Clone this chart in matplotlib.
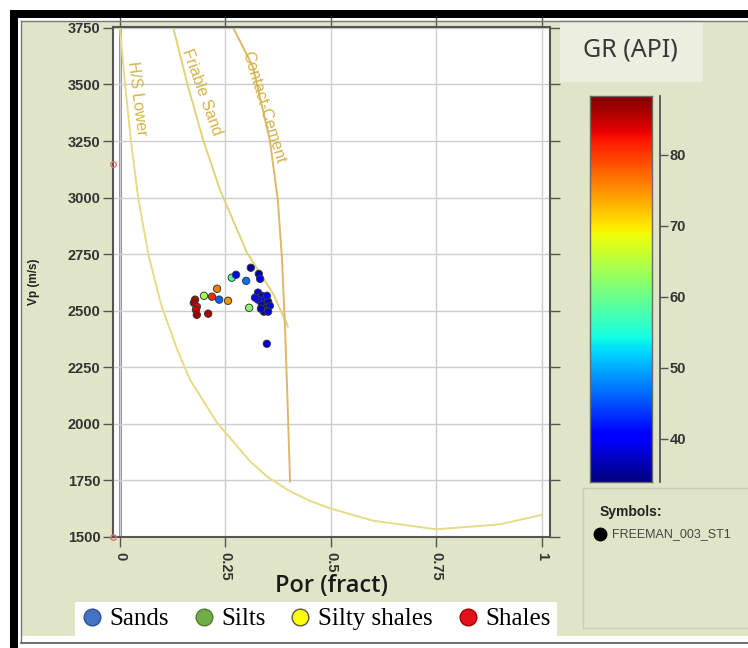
import numpy as np
import matplotlib.pyplot as plt
from matplotlib.patches import Rectangle
from matplotlib.lines import Line2D

# Well FREEMAN_003_ST1: porosity vs Vp, coloured by gamma ray
por = np.array([0.178, 0.175, 0.182, 0.180, 0.182, 0.209, 0.199, 0.218, 0.230,
                0.235, 0.256, 0.265, 0.275, 0.299, 0.310, 0.329, 0.332, 0.306,
                0.327, 0.336, 0.344, 0.351, 0.327, 0.336, 0.346, 0.355, 0.341,
                0.351, 0.334, 0.348, 0.320, 0.348])
vp = np.array([2549, 2535, 2518, 2504, 2482, 2487, 2566, 2562, 2597,
               2549, 2544, 2646, 2659, 2632, 2690, 2663, 2641, 2513,
               2580, 2566, 2553, 2540, 2549, 2527, 2513, 2522, 2496,
               2496, 2509, 2566, 2558, 2354])
gr = np.array([86, 87, 84, 85, 87, 86, 64, 81, 76,
               46, 75, 58, 39, 47, 35, 36, 40, 62,
               38, 37, 39, 36, 40, 38, 37, 39, 36,
               38, 37, 40, 41, 38])

# points sitting on the left edge of the plot
edge_vp = [3150, 1500]

# rock physics model lines
hs_por = [0.0, 0.012, 0.026, 0.043, 0.067, 0.097, 0.135, 0.166, 0.23, 0.308,
          0.35, 0.40, 0.45, 0.5, 0.6, 0.75, 0.9, 1.0]
hs_vp = [3750, 3500, 3250, 3000, 2750, 2530, 2330, 2195, 2005, 1835,
         1765, 1705, 1660, 1625, 1572, 1534, 1556, 1598]
fs_por = [0.126, 0.159, 0.197, 0.237, 0.301, 0.363, 0.398]
fs_vp = [3752, 3507, 3255, 3034, 2756, 2575, 2430]
cc_por = [0.268, 0.315, 0.355, 0.374, 0.384, 0.391, 0.397, 0.403]
cc_vp = [3752, 3578, 3255, 2990, 2725, 2430, 2100, 1745]

gr_min, gr_max = 33.9, 88.3
gr_ticks = [40, 50, 60, 70, 80]
x_ticks = [0, 0.25, 0.5, 0.75, 1]
x_ticklabels = ['0', '0.25', '0.5', '0.75', '1']
y_ticks = list(range(1500, 3751, 250))

facies = ['Sands', 'Silts', 'Silty shales', 'Shales']
facies_colors = ['#4472c4', '#70ad47', '#ffff00', '#e3111b']
facies_edges = ['#2f528f', '#507e32', '#555555', '#a00000']

W, H = 748, 648
BG = '#e1e5c7'
TICK_FONT = dict(family='Liberation Sans', weight='bold', size=10.5)


def box(x0, y0, x1, y1):
    # pixel box (top-left origin) -> figure fraction rect
    return [x0 / W, 1 - y1 / H, (x1 - x0) / W, (y1 - y0) / H]


def fig_rect(fig, x0, y0, x1, y1, **kw):
    l, b, w, h = box(x0, y0, x1, y1)
    fig.add_artist(Rectangle((l, b), w, h, transform=fig.transFigure, **kw))


fig = plt.figure(figsize=(W / 100, H / 100), dpi=100)
fig.patch.set_facecolor('white')

# window frame and panel background
fig_rect(fig, 22, 22, W, 636, facecolor=BG, edgecolor='none', zorder=0)
fig_rect(fig, 10, 10, W, 18, facecolor='black', edgecolor='none', zorder=1)
fig_rect(fig, 10, 10, 18, H, facecolor='black', edgecolor='none', zorder=1)
fig.add_artist(Line2D([20.5 / W, 20.5 / W], [1 - 20.5 / H, 1 - 642 / H],
                      transform=fig.transFigure, color='#777777', lw=1))
fig.add_artist(Line2D([20.5 / W, 1], [1 - 20.5 / H, 1 - 20.5 / H],
                      transform=fig.transFigure, color='#777777', lw=1))
fig.add_artist(Line2D([20.5 / W, 1], [1 - 642.5 / H, 1 - 642.5 / H],
                      transform=fig.transFigure, color='#555555', lw=1.2))

# GR title box and symbols box
fig_rect(fig, 560, 20, 703, 82, facecolor='#eceee0', edgecolor='none', zorder=1)
fig.text(630 / W, 1 - 50 / H, 'GR (API)', family='Noto Sans', size=18,
         color='#383838', ha='center', va='center')
fig_rect(fig, 583, 488, W + 2, 628, facecolor=BG, edgecolor='#c9ceb0',
         lw=1, zorder=1)
fig.text(600 / W, 1 - 512 / H, 'Symbols:', family='Liberation Sans',
         weight='bold', size=10, color='#222222', va='center')
fig.add_artist(Line2D([600 / W], [1 - 534 / H], transform=fig.transFigure,
                      marker='o', ms=9, color='black', ls='none'))
fig.text(612 / W, 1 - 534 / H, 'FREEMAN_003_ST1', family='Liberation Sans',
         size=9, color='#444444', va='center')

# main crossplot
ax = fig.add_axes(box(113, 27, 550, 537))
ax.set_facecolor('white')
ax.set_xlim(-0.0166, 1.019)
ax.set_ylim(1500, 3754)
ax.grid(True, color='#cdcdcd', lw=1, zorder=0)
ax.axvline(0, color='#60677a', lw=1.8, zorder=1)

ax.plot(hs_por, hs_vp, color='#e8da86', lw=1.4, zorder=2)
ax.plot(fs_por, fs_vp, color='#e3d27a', lw=1.4, zorder=2)
ax.plot(cc_por, cc_vp, color='#dcb868', lw=1.4, zorder=2)

lbl = dict(color='#d2b44a', family='Liberation Sans', size=11.5,
           ha='center', va='center', rotation_mode='anchor')
ax.text(0.040, 3436, 'H/S Lower', rotation=-83, **lbl)
ax.text(0.194, 3467, 'Friable Sand', rotation=-70, **lbl)
ax.text(0.341, 3400, 'Contact-Cement', rotation=-73, **lbl)

ax.scatter(por, vp, c=gr, cmap='jet', vmin=gr_min, vmax=gr_max, s=28,
           edgecolors='#3a3a3a', linewidths=0.7, zorder=5)
ax.plot([ax.get_xlim()[0]] * len(edge_vp), edge_vp, 'o', mfc='none',
        mec='#e07070', ms=4, mew=1, clip_on=False, zorder=6)

ax.set_xticks(x_ticks)
ax.set_xticklabels(x_ticklabels, rotation=-90, fontdict=TICK_FONT)
ax.set_yticks(y_ticks)
ax.set_yticklabels([str(v) for v in y_ticks], fontdict=TICK_FONT)
ax.tick_params(axis='both', direction='out', length=7, width=1,
               color='#555555', labelcolor='#333333', pad=2)
ax.tick_params(axis='x', top=True, pad=4)
ax.tick_params(axis='y', right=True)
for s in ax.spines.values():
    s.set_color('#555555')
    s.set_linewidth(1.5)

ax.set_xlabel('Por (fract)', family='Open Sans', weight='semibold', size=17,
              color='#1a1a1a')
ax.xaxis.set_label_coords(0.5, -0.073)
ax.set_ylabel('Vp (m/s)', family='Liberation Sans', weight='bold', size=8.5,
              color='#222222')
ax.yaxis.set_label_coords(-0.167, 0.5)

# gamma ray colour scale
cax = fig.add_axes(box(590, 96, 652, 482))
grad = np.linspace(gr_min, gr_max, 256)[:, None]
cax.imshow(grad, cmap='jet', aspect='auto', origin='lower',
           extent=[0, 1, gr_min, gr_max], vmin=gr_min, vmax=gr_max)
cax.set_xticks([])
cax.set_yticks([])
for s in cax.spines.values():
    s.set_color('#6a6a6a')
    s.set_linewidth(1)

tax = fig.add_axes(box(659, 96, 660, 482))
tax.set_facecolor('none')
tax.set_ylim(gr_min, gr_max)
tax.set_xticks([])
for side in ['left', 'top', 'bottom']:
    tax.spines[side].set_visible(False)
tax.spines['right'].set_color('#555555')
tax.spines['right'].set_linewidth(1.3)
tax.yaxis.tick_right()
tax.set_yticks(gr_ticks)
tax.set_yticklabels([str(v) for v in gr_ticks], fontdict=TICK_FONT)
tax.tick_params(axis='y', direction='out', length=6, width=1,
                color='#555555', labelcolor='#333333', pad=1)

# facies legend
handles = [Line2D([], [], marker='o', ls='none', ms=12, mfc=c, mec=e, mew=1)
           for c, e in zip(facies_colors, facies_edges)]
leg = fig.legend(handles, facies, loc='center',
                 bbox_to_anchor=(316 / W, 1 - 619 / H), ncol=4,
                 frameon=True, facecolor='white', edgecolor='none',
                 framealpha=1, fancybox=False,
                 prop={'family': 'Liberation Serif', 'size': 18},
                 handlelength=0.8, handletextpad=0.3, columnspacing=1.0,
                 borderpad=0.25, borderaxespad=0)

fig.savefig('out.png', dpi=100, facecolor=fig.get_facecolor())
